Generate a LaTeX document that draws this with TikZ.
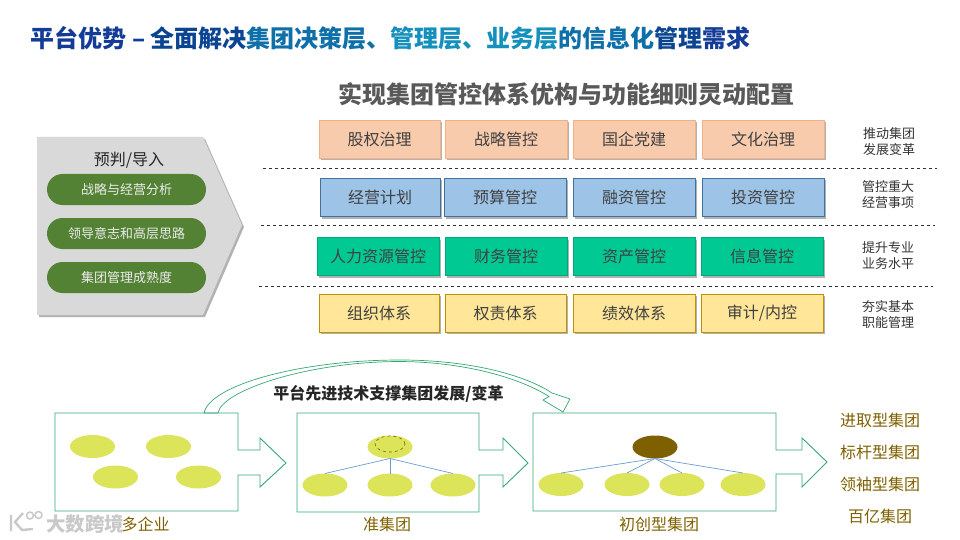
\documentclass[tikz,border=0pt]{standalone}
\usepackage{fontspec}
\setmainfont{Noto Sans CJK SC}
\usetikzlibrary{positioning, shapes.geometric, shapes.misc, shadows}
\definecolor{row1}{HTML}{F8CBAD}
\definecolor{row1line}{HTML}{F4B183}
\definecolor{row2}{HTML}{9DC3E6}
\definecolor{row2line}{HTML}{41719C}
\definecolor{row3}{HTML}{00C993}
\definecolor{row3line}{HTML}{00A878}
\definecolor{row4}{HTML}{FFE699}
\definecolor{row4line}{HTML}{BF9000}
\definecolor{leaf}{HTML}{DCE45A}
\definecolor{brownish}{HTML}{7F6000}
\definecolor{outline}{HTML}{35A873}
\definecolor{pill}{HTML}{548235}
\definecolor{branch}{HTML}{6C9BD2}
\definecolor{tblue}{HTML}{143C96}
\definecolor{tnavy}{HTML}{0B4592}
\definecolor{tmid}{HTML}{0F6FA8}
\definecolor{tteal}{HTML}{1590BC}

\begin{document}
\begin{tikzpicture}[
    x=1pt, y=-1pt,
    cell/.style={rectangle, draw, line width=0.8pt, minimum width=122pt, minimum height=38pt, inner sep=0pt, outer sep=0pt,
        font=\fontsize{16}{19}\selectfont, text=black!75, drop shadow={shadow xshift=2pt, shadow yshift=-2pt, fill=black!60}},
    pillbox/.style={rounded rectangle, fill=pill, minimum width=159pt, minimum height=31pt, inner sep=0pt, outer sep=0pt,
        font=\fontsize{13}{16}\selectfont, text=white!92!black},
    note/.style={align=center, font=\fontsize{13}{16}\selectfont, text=black!80},
    sep/.style={dashed, black!80, line width=0.6pt},
    blob/.style={ellipse, fill=leaf, minimum width=45pt, minimum height=23pt, inner sep=0pt, outer sep=0pt},
    stage/.style={draw=outline, line width=0.9pt},
    tree/.style={draw=branch, line width=0.7pt},
    caption/.style={font=\fontsize{16}{19}\selectfont, text=brownish},
]
\useasboundingbox (0,0) rectangle (960,540);

% Titles
\node[anchor=west, inner sep=0pt, font=\fontsize{24}{28}\selectfont\bfseries] (title) at (30.5,38.5) {\textcolor{tblue}{平台优势 – }\textcolor{tnavy}{全面解决}\textcolor{tmid}{集团决策层、}\textcolor{tteal}{管理层、业务层}\textcolor{tmid}{的信息化}\textcolor{tnavy}{管理}\textcolor{tblue}{需求}};
\node[inner sep=0pt, font=\fontsize{24}{28}\selectfont\bfseries, text=black!65] (subtitle) at (566,94) {实现集团管控体系优构与功能细则灵动配置};

% Left input panel
\fill[black!15, drop shadow={shadow xshift=2pt, shadow yshift=-2pt, fill=black!60}] (37,137) -- (203,137) -- (242,225) -- (203,315) -- (37,315) -- cycle;
\node[font=\fontsize{16}{19}\selectfont, text=black!85] (input) at (129,160) {预判/导入};
\node[pillbox] (pilla) at (126.5,189.5) {战略与经营分析};
\node[pillbox, below=13pt of pilla] (pillb) {领导意志和高层思路};
\node[pillbox, below=13pt of pillb] (pillc) {集团管理成熟度};

% Row 1
\node[cell, fill=row1, draw=row1line, minimum width=121pt] (a1) at (379.5,139) {股权治理};
\node[cell, fill=row1, draw=row1line, right=5pt of a1] (a2) {战略管控};
\node[cell, fill=row1, draw=row1line, right=6pt of a2] (a3) {国企党建};
\node[cell, fill=row1, draw=row1line, right=7pt of a3] (a4) {文化治理};

% Row 2
\node[cell, fill=row2, draw=row2line, minimum width=120pt] (b1) at (380,197.5) {经营计划};
\node[cell, fill=row2, draw=row2line, right=4pt of b1] (b2) {预算管控};
\node[cell, fill=row2, draw=row2line, right=7pt of b2] (b3) {融资管控};
\node[cell, fill=row2, draw=row2line, right=7pt of b3] (b4) {投资管控};

% Row 3
\node[cell, fill=row3, draw=row3line] (c1) at (378,256.5) {人力资源管控};
\node[cell, fill=row3, draw=row3line, right=6pt of c1] (c2) {财务管控};
\node[cell, fill=row3, draw=row3line, right=6pt of c2] (c3) {资产管控};
\node[cell, fill=row3, draw=row3line, right=6pt of c3] (c4) {信息管控};

% Row 4
\node[cell, fill=row4, draw=row4line, minimum width=120pt] (d1) at (379,313) {组织体系};
\node[cell, fill=row4, draw=row4line, minimum width=121pt, right=6pt of d1] (d2) {权责体系};
\node[cell, fill=row4, draw=row4line, right=7pt of d2] (d3) {绩效体系};
\node[cell, fill=row4, draw=row4line, right=6pt of d3] (d4) {审计/内控};

% Row notes
\node[note] (na) at (889,142) {推动集团\\发展变革};
\node[note] (nb) at (888,195) {管控重大\\经营事项};
\node[note] (nc) at (888,256) {提升专业\\业务水平};
\node[note] (nd) at (888,315) {夯实基本\\职能管理};

% Dashed separators
\draw[sep] (263,168) -- (937,168);
\draw[sep] (261,225) -- (935,225);
\draw[sep] (259,286) -- (933,286);

% Stage outlines
\draw[stage] (55,413) -- (238,413) -- (238,450) -- (260,450) -- (260,438) -- (286,463) -- (260,487) -- (260,475) -- (238,475) -- (238,511) -- (55,511) -- cycle;
\draw[stage] (297,413) -- (479,413) -- (479,450) -- (503,450) -- (503,438) -- (528,463) -- (503,487) -- (503,475) -- (479,475) -- (479,512) -- (297,512) -- cycle;
\draw[stage] (533,413) -- (776,413) -- (776,450) -- (802,450) -- (802,438) -- (827,462) -- (802,487) -- (802,474) -- (776,474) -- (776,511) -- (533,511) -- cycle;

% Curved arrow
\draw[stage, line width=0.7pt] (204,413) .. controls (210,385) and (300,360) .. (400,360) .. controls (470,360) and (525,375) .. (552,393) -- (570,399) -- (563,412) -- (543,400) -- (549,396.5) .. controls (520,378) and (465,362) .. (400,361.5) .. controls (310,361.5) and (222,390) .. (218,413) -- cycle;
\node[inner sep=0pt, font=\fontsize{16}{19}\selectfont\bfseries, text=black!85] (support) at (388.5,394) {平台先进技术支撑集团发展/变革};

% Stage 1
\node[blob] (s1a) at (92.5,446.5) {};
\node[blob] (s1b) at (168.5,446.5) {};
\node[blob] (s1c) at (115.5,477) {};
\node[blob] (s1d) at (198.5,477) {};

% Stage 2
\node[blob] (s2top) at (390,447) {};
\node[ellipse, draw=brownish, dashed, line width=0.6pt, minimum width=30pt, minimum height=16pt, inner sep=0pt] (s2core) at (390,444) {};
\node[blob] (s2a) at (325,485) {};
\node[blob] (s2b) at (390,485) {};
\node[blob] (s2c) at (453,485) {};
\draw[tree] (s2top.south) -- (s2a.north);
\draw[tree] (s2top.south) -- (s2b.north);
\draw[tree] (s2top.south) -- (s2c.north);

% Stage 3
\node[blob, fill=brownish] (s3top) at (655,447) {};
\node[blob] (s3a) at (561,484.5) {};
\node[blob] (s3b) at (627,484.5) {};
\node[blob] (s3c) at (682,484.5) {};
\node[blob] (s3d) at (743,484.5) {};
\draw[tree] (s3top.south) -- (s3a.north);
\draw[tree] (s3top.south) -- (s3b.north);
\draw[tree] (s3top.south) -- (s3c.north);
\draw[tree] (s3top.south) -- (s3d.north);

% Captions
\node[caption] (cap1) at (145.5,524) {多企业};
\node[caption] (cap2) at (387,524) {准集团};
\node[caption] (cap3) at (659,524) {初创型集团};
\node[caption] (out1) at (880,420) {进取型集团};
\node[caption] (out2) at (880,452) {标杆型集团};
\node[caption] (out3) at (880,484) {领袖型集团};
\node[caption] (out4) at (880,516) {百亿集团};

% Watermark
\node[inner sep=0pt, font=\fontsize{19.5}{22}\selectfont\bfseries, text=black!25, opacity=0.85] (mark) at (85,524) {大数跨境};
\draw[black!25, line width=2.4pt, opacity=0.85] (11,515) -- (11,531) (23,513) -- (15,522) -- (22,530) -- (33,529);
\draw[black!25, line width=1.5pt, opacity=0.85] (30,515.5) circle (3.5) (38.5,515) circle (3.5);

\end{tikzpicture}
\end{document}
